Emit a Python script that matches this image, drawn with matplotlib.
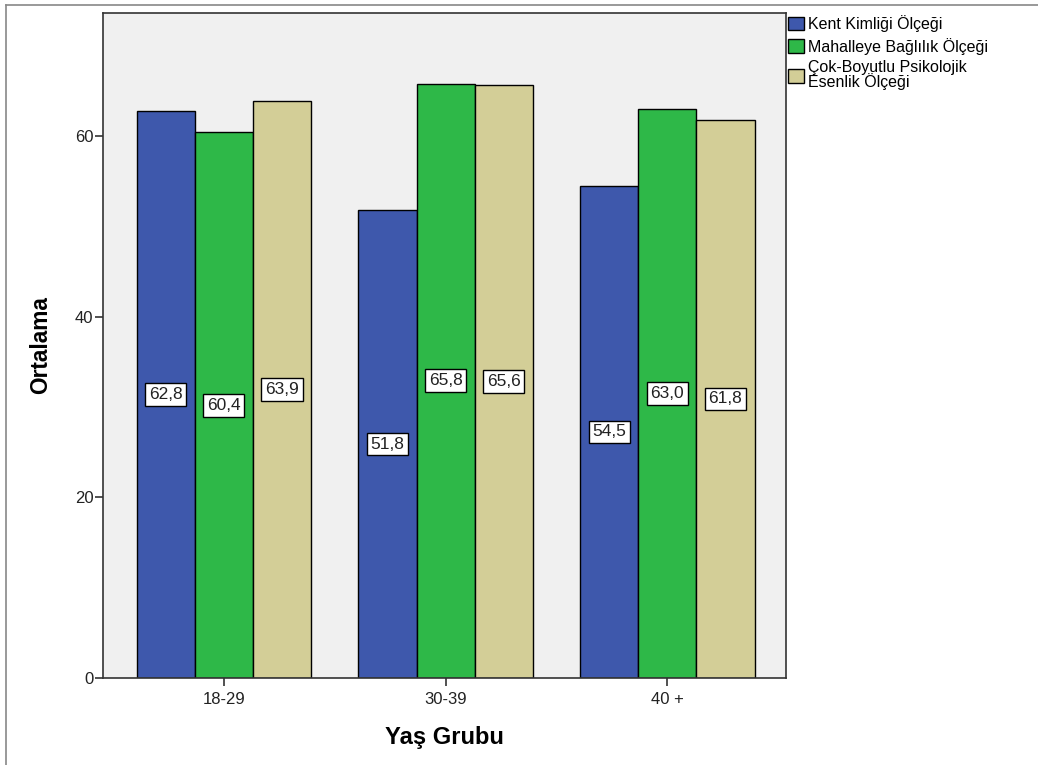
import matplotlib
matplotlib.use("Agg")
import matplotlib.pyplot as plt
import numpy as np

plt.rcParams['font.family'] = ['Liberation Sans', 'DejaVu Sans']

groups = ["18-29", "30-39", "40 +"]
series_names = ["Kent Kimliği Ölçeği", "Mahalleye Bağlılık Ölçeği",
                "Çok-Boyutlu Psikolojik\nEsenlik Ölçeği"]
kent = [62.8, 51.8, 54.5]
mahalle = [60.4, 65.8, 63.0]
esenlik = [63.9, 65.6, 61.8]
yticks = [0, 20, 40, 60]
colors = ["#3E58AC", "#2EB848", "#D3CE97"]

fig = plt.figure(figsize=(10.38, 7.65), dpi=100)
W, H = 1038, 765
ax = fig.add_axes([103 / W, 1 - 678 / H, (786 - 103) / W, (678 - 12.7) / H])
ax.set_facecolor("#F0F0F0")

x = np.arange(len(groups))
bw = 0.262
all_series = [kent, mahalle, esenlik]
for i, (vals, c, name) in enumerate(zip(all_series, colors, series_names)):
    pos = x + (i - 1) * bw
    ax.bar(pos, vals, width=bw, color=c, edgecolor="black", linewidth=1.0, label=name, zorder=2)
    for p, v in zip(pos, vals):
        ax.text(p, v / 2, f"{v:.1f}".replace(".", ","), ha="center", va="center",
                fontsize=12.5, color="#222222", zorder=3,
                bbox=dict(boxstyle="square,pad=0.22", fc="white", ec="black", lw=1.0))

ax.set_xlim(-0.545, 2.535)
ax.set_ylim(0, 73.65)
ax.set_xticks(x)
ax.set_xticklabels(groups, fontsize=12)
ax.set_yticks(yticks)
ax.set_yticklabels([str(t) for t in yticks], fontsize=12)
ax.tick_params(axis="both", length=6, width=1.2, color="#333333", labelcolor="#222222")
ax.tick_params(axis="x", pad=4)
ax.tick_params(axis="y", pad=1)
for s in ax.spines.values():
    s.set_linewidth(1.2)
    s.set_color("#333333")

ax.set_ylabel("Ortalama", fontsize=16.3, fontweight="bold", labelpad=16)
ax.set_xlabel("Yaş Grubu", fontsize=17, fontweight="bold", labelpad=14)

leg = ax.legend(loc="upper left", bbox_to_anchor=(1.0, 1.0), frameon=False,
                fontsize=11.5, handlelength=0.95, handleheight=0.95, handletextpad=0.3,
                labelspacing=0.35, borderaxespad=0.0, borderpad=0.15)
for t in leg.get_texts():
    t.set_linespacing(0.85)

# outer frame lines
fig.add_artist(plt.Line2D([6 / W, 6 / W], [0, 1 - 5 / H], color="#888888", lw=1.2))
fig.add_artist(plt.Line2D([6 / W, 1], [1 - 5 / H, 1 - 5 / H], color="#888888", lw=1.2))

fig.savefig("out.png", dpi=100)
